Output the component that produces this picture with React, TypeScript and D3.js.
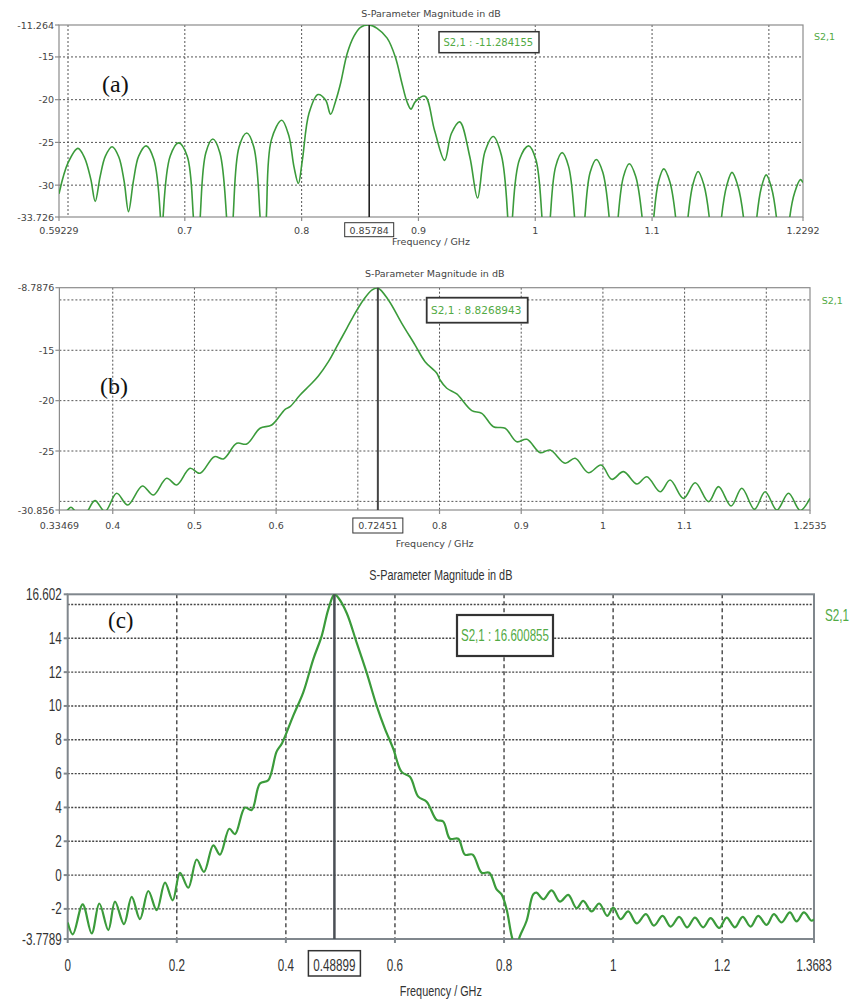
import React from 'react';
import * as d3 from 'd3';

// S2,1 magnitude traces, [GHz, dB]
const curveA: [number, number][] = [
  [0.59229, -31.0], [0.6, -27.4], [0.6085, -25.7], [0.6142, -26.8], [0.6195, -29.3], [0.6233, -31.9],
  [0.6275, -29.0], [0.632, -26.6], [0.6378, -25.5], [0.6435, -26.7], [0.648, -29.5], [0.6518, -33.1],
  [0.656, -29.5], [0.6605, -26.6], [0.6669, -25.4], [0.6735, -27.0], [0.6791, -33.7], [0.6803, -45],
  [0.6814, -33.7], [0.6875, -26.6], [0.6947, -25.05], [0.702, -26.6], [0.7073, -33.7], [0.7104, -45],
  [0.7132, -33.7], [0.718, -26.2], [0.724, -24.6], [0.73, -26.2], [0.7357, -33.7], [0.7386, -45],
  [0.7414, -33.7], [0.7465, -25.5], [0.753, -23.9], [0.759, -25.5], [0.7644, -33.7], [0.7673, -45],
  [0.7698, -33.7], [0.7741, -24.7], [0.783, -22.4], [0.789, -24.2], [0.7935, -27.9], [0.7972, -29.8],
  [0.8006, -27.1], [0.8063, -21.6], [0.814, -19.4], [0.8205, -20.05], [0.8248, -21.7], [0.829, -20.2],
  [0.8333, -18.1], [0.839, -14.6], [0.8447, -12.6], [0.8504, -11.54], [0.8578, -11.264], [0.8646, -11.65],
  [0.8732, -12.8], [0.8802, -15.0], [0.8859, -18.1], [0.8902, -20.25], [0.8936, -21.1], [0.8975, -20.2],
  [0.9056, -19.6], [0.9138, -23.6], [0.9224, -27.1], [0.9282, -23.96], [0.9353, -22.6], [0.944, -26.7],
  [0.9506, -31.5], [0.9569, -26.1], [0.964, -24.3], [0.971, -26.5], [0.9764, -33.7], [0.9784, -45],
  [0.9805, -33.7], [0.9865, -27.0], [0.9943, -25.4], [1.0005, -27.0], [1.0057, -33.7], [1.0092, -45],
  [1.0129, -33.7], [1.0175, -27.8], [1.023, -26.2], [1.0285, -27.8], [1.0336, -33.7], [1.0379, -45],
  [1.0425, -33.7], [1.047, -28.5], [1.0523, -27.0], [1.0578, -28.5], [1.0632, -33.7], [1.067, -45],
  [1.071, -33.7], [1.0755, -29.0], [1.0805, -27.5], [1.086, -29.0], [1.0914, -33.7], [1.0963, -45],
  [1.1015, -33.7], [1.1055, -29.6], [1.11, -28.1], [1.1152, -29.6], [1.1201, -33.7], [1.1253, -45],
  [1.1308, -33.7], [1.135, -29.9], [1.1394, -28.4], [1.1442, -29.9], [1.1489, -33.7], [1.154, -45],
  [1.1595, -33.7], [1.164, -30.0], [1.1684, -28.5], [1.1733, -30.0], [1.1782, -33.7], [1.1839, -45],
  [1.1897, -33.7], [1.1935, -30.3], [1.1977, -28.8], [1.2022, -30.3], [1.2064, -33.7], [1.2121, -45],
  [1.2179, -33.7], [1.2222, -30.8], [1.227, -29.35], [1.2292, -29.7],
];

const curveB: [number, number][] = [
  [0.33469, -31.6], [0.3436, -30.95], [0.3489, -30.59], [0.354, -31.0], [0.362, -31.8], [0.369, -31.0],
  [0.3783, -29.93], [0.3905, -31.0], [0.4048, -29.2], [0.4183, -30.36], [0.4362, -28.47], [0.4497, -29.37],
  [0.466, -27.71], [0.4783, -28.37], [0.4946, -26.72], [0.5068, -27.21], [0.5244, -25.56], [0.5354, -25.79],
  [0.5518, -24.24], [0.564, -24.3], [0.5803, -22.74], [0.5946, -22.42], [0.611, -20.86], [0.617, -20.6],
  [0.6293, -19.44], [0.6415, -18.45], [0.6517, -17.55], [0.664, -16.13], [0.6742, -14.64], [0.6865, -12.82],
  [0.6966, -11.33], [0.7068, -10.01], [0.7171, -9.02], [0.7245, -8.83], [0.7374, -10.0], [0.7538, -12.32],
  [0.7701, -14.48], [0.7823, -16.13], [0.7967, -17.28], [0.8007, -17.95], [0.8089, -18.77], [0.8211, -19.34],
  [0.8395, -20.99], [0.8517, -21.26], [0.866, -22.59], [0.8803, -22.74], [0.8946, -24.08], [0.9069, -23.84],
  [0.9232, -25.17], [0.9354, -24.9], [0.9538, -26.22], [0.966, -25.72], [0.9823, -27.15], [0.9978, -26.39],
  [1.0109, -27.81], [1.0252, -27.05], [1.0416, -28.27], [1.0538, -27.55], [1.0701, -29.04], [1.0823, -27.88],
  [1.0986, -29.7], [1.113, -28.15], [1.1293, -30.03], [1.1415, -28.54], [1.157, -30.46], [1.1701, -28.7],
  [1.1855, -30.79], [1.1986, -29.04], [1.213, -30.86], [1.2272, -29.2], [1.2415, -30.9], [1.2535, -29.7],
];

const curveC: [number, number][] = [
  [0, -2.8], [0.0095, -3.5], [0.0275, -1.73], [0.044, -3.45], [0.058, -1.68], [0.0745, -3.25],
  [0.0867, -1.57], [0.1032, -2.9], [0.1173, -1.29], [0.1325, -2.6], [0.1478, -0.94], [0.1632, -2.08],
  [0.1784, -0.45], [0.1925, -1.49], [0.2059, 0.13], [0.2211, -0.75], [0.2365, 0.92], [0.2499, 0.19],
  [0.2669, 1.76], [0.2792, 1.21], [0.2963, 2.74], [0.3067, 2.42], [0.325, 3.99], [0.3373, 3.85],
  [0.3525, 5.42], [0.3677, 5.61], [0.383, 7.3], [0.393, 7.8], [0.4136, 9.43], [0.4319, 10.8],
  [0.4502, 12.76], [0.4656, 14.13], [0.4777, 15.7], [0.48899, 16.6], [0.4961, 16.4], [0.5115, 15.5],
  [0.5298, 13.74], [0.5481, 11.97], [0.5665, 10.01], [0.5817, 8.65], [0.5969, 7.47], [0.6122, 6.1],
  [0.6275, 5.81], [0.6427, 4.64], [0.6581, 4.34], [0.6764, 3.26], [0.6885, 3.17], [0.7008, 2.15],
  [0.716, 2.15], [0.7283, 1.21], [0.7424, 1.21], [0.7589, 0.14], [0.7729, 0.14], [0.7864, -0.85],
  [0.7955, -1.14], [0.8047, -2.02], [0.814, -3.6], [0.821, -4.3], [0.8292, -3.6], [0.8414, -2.7],
  [0.8535, -1.14], [0.8597, -1.04], [0.8719, -1.43], [0.8872, -0.9], [0.9025, -1.57], [0.9177, -1.17],
  [0.9331, -1.96], [0.9452, -1.53], [0.9606, -2.15], [0.9745, -1.68], [0.9892, -2.41], [1.0002, -1.92],
  [1.0137, -2.61], [1.0277, -2.15], [1.0431, -2.86], [1.0601, -2.31], [1.0748, -2.99], [1.0907, -2.41],
  [1.1054, -3.05], [1.1212, -2.47], [1.1358, -3.09], [1.15, -2.51], [1.1652, -3.09], [1.1787, -2.55],
  [1.1945, -3.13], [1.2081, -2.51], [1.2233, -3.09], [1.2374, -2.47], [1.2521, -3.05], [1.266, -2.41],
  [1.2814, -2.94], [1.2948, -2.31], [1.3089, -2.8], [1.3241, -2.21], [1.3364, -2.74], [1.3498, -2.21],
  [1.3639, -2.7], [1.3683, -2.6],
];

// axis ranges, grid and labelled ticks
const xDomainA = [0.59229, 1.2292];
const yDomainA = [-33.726, -11.264];
const gridXA = [0.6, 0.7, 0.8, 0.9, 1, 1.1, 1.2];
const gridYA = [-15, -20, -25, -30];
const labelsXA = [0.59229, 0.7, 0.8, 0.9, 1, 1.1, 1.2292];
const labelsYA = [-11.264, -15, -20, -25, -30, -33.726];
const markerA = 0.85784;
const markerTextA = 'S2,1 : -11.284155';

const xDomainB = [0.33469, 1.2535];
const yDomainB = [-30.856, -8.7876];
const gridXB = [0.4, 0.5, 0.6, 0.7, 0.8, 0.9, 1, 1.1, 1.2];
const gridYB = [-10, -15, -20, -25, -30];
const labelsXB = [0.33469, 0.4, 0.5, 0.6, 0.8, 0.9, 1, 1.1, 1.2535];
const labelsYB = [-8.7876, -15, -20, -25, -30.856];
const markerB = 0.72451;
const markerTextB = 'S2,1 :  8.8268943';

const xDomainC = [0, 1.3683];
const yDomainC = [-3.7789, 16.602];
const gridXC = [0.2, 0.4, 0.6, 0.8, 1, 1.2];
const gridYC = [16, 14, 12, 10, 8, 6, 4, 2, 0, -2];
const labelsXC = [0, 0.2, 0.4, 0.6, 0.8, 1, 1.2, 1.3683];
const labelsYC = [16.602, 14, 12, 10, 8, 6, 4, 2, 0, -2, -3.7789];
const markerC = 0.48899;
const markerTextC = 'S2,1 : 16.600855';

const GREEN = '#3b9b3b';
const TEXT_GREEN = '#52aa44';

function Txt(props: any) {
  const { x, y, f, size, sx, anchor, fill, children } = props;
  return (
    <text
      transform={`translate(${x},${y}) scale(${sx ?? f.sx},1)`}
      fontFamily={f.family}
      fontSize={size ?? f.size}
      fill={fill ?? f.color}
      textAnchor={anchor ?? 'start'}
    >
      {children}
    </text>
  );
}

function Panel(p: any) {
  const x = d3.scaleLinear().domain(p.xDomain).range([p.l, p.r]);
  const y = d3.scaleLinear().domain(p.yDomain).range([p.b, p.t]);
  const line = d3.line<[number, number]>()
    .x(d => x(d[0]))
    .y(d => y(d[1]))
    .curve(d3.curveCatmullRom.alpha(0.5));
  const f = p.font;
  const cx = (p.l + p.r) / 2;
  const mx = x(p.marker);

  return (
    <g>
      <defs>
        <clipPath id={p.id}>
          <rect x={p.l} y={p.t} width={p.r - p.l} height={p.b - p.t} />
        </clipPath>
      </defs>

      {/* grid */}
      {p.gridY.map((v: number) => (
        <line key={'gy' + v} x1={p.l} x2={p.r} y1={y(v)} y2={y(v)}
          stroke={p.gridColor} strokeWidth={p.gridW} strokeDasharray={p.dashY} />
      ))}
      {p.gridX.map((v: number) => (
        <line key={'gx' + v} x1={x(v)} x2={x(v)} y1={p.t} y2={p.b}
          stroke={p.gridColor} strokeWidth={p.gridW} strokeDasharray={p.dashX} />
      ))}

      {/* frame */}
      <rect x={p.l} y={p.t} width={p.r - p.l} height={p.b - p.t} fill="none"
        stroke={p.frameColor} strokeWidth={p.frameW} />

      {/* ticks */}
      {p.labelsY.map((v: number) => (
        <line key={'ty' + v} x1={p.l - 4} x2={p.l} y1={y(v)} y2={y(v)} stroke={p.frameColor} strokeWidth={p.frameW} />
      ))}
      {p.labelsX.map((v: number) => (
        <line key={'tx' + v} x1={x(v)} x2={x(v)} y1={p.b} y2={p.b + 4} stroke={p.frameColor} strokeWidth={p.frameW} />
      ))}

      {/* trace */}
      <path d={line(p.curve) || ''} fill="none" stroke={GREEN} strokeWidth={p.lineW}
        clipPath={`url(#${p.id})`} strokeLinejoin="round" />

      {/* marker */}
      <line x1={mx} x2={mx} y1={p.t} y2={p.b} stroke={p.markerColor} strokeWidth={p.markerW} />

      {/* tick labels */}
      {p.labelsY.map((v: number) => (
        <Txt key={'ly' + v} f={f} x={p.l - p.yLabelGap} y={y(v) + p.yLabelDy} anchor="end">{String(v)}</Txt>
      ))}
      {p.labelsX.map((v: number) => (
        <Txt key={'lx' + v} f={f} x={x(v)} y={p.xLabelY} anchor="middle">{String(v)}</Txt>
      ))}

      {/* marker value on x axis */}
      <rect x={mx - p.xBox.w / 2} y={p.xBox.y} width={p.xBox.w} height={p.xBox.h}
        fill="#fff" stroke="#333" strokeWidth={p.xBox.sw} />
      <Txt f={f} x={mx} y={p.xLabelY} anchor="middle">{String(p.marker)}</Txt>

      {/* marker readout */}
      <rect x={p.mBox.x} y={p.mBox.y} width={p.mBox.w} height={p.mBox.h}
        fill="#fff" stroke="#333" strokeWidth={p.mBox.sw} />
      <Txt f={f} x={p.mBox.tx} y={p.mBox.ty} size={p.mBox.size} sx={p.mBox.sx} fill={TEXT_GREEN}>{p.markerText}</Txt>

      {/* titles, legend */}
      <Txt f={f} x={cx} y={p.titleY} size={p.titleSize} sx={p.titleSx} anchor="middle">S-Parameter Magnitude in dB</Txt>
      <Txt f={f} x={cx} y={p.xTitleY} size={p.titleSize} sx={p.titleSx} anchor="middle">Frequency / GHz</Txt>
      <Txt f={f} x={p.legend[0]} y={p.legend[1]} size={p.legendSize} fill={TEXT_GREEN}>S2,1</Txt>

      <text x={p.tag[0]} y={p.tag[1]} fontFamily="'Liberation Serif', 'Times New Roman', serif"
        fontSize={p.tagSize} fill="#111">{p.tagText}</text>
    </g>
  );
}

const fontAB = { family: "'DejaVu Sans', Verdana, sans-serif", size: 9.5, sx: 1, color: '#444' };
const fontC = { family: "'Liberation Sans', Arial, sans-serif", size: 16, sx: 0.73, color: '#333' };

export default function App() {
  return (
    <svg width={850} height={1003} viewBox="0 0 850 1003"
      style={{ position: 'absolute', left: 0, top: 0, background: '#fff', display: 'block' }}>
      <rect x={0} y={0} width={850} height={1003} fill="#fff" />

      <Panel id="clipA" curve={curveA} xDomain={xDomainA} yDomain={yDomainA}
        l={59} t={25} r={803} b={217}
        gridX={gridXA} gridY={gridYA} labelsX={labelsXA} labelsY={labelsYA}
        marker={markerA} markerText={markerTextA}
        font={fontAB} gridColor="#555" gridW={1} dashX="2,2" dashY="2,2"
        frameColor="#8c8c8c" frameW={1.2} lineW={1.6}
        markerColor="#222" markerW={1.6}
        yLabelGap={5} yLabelDy={3.5} xLabelY={233.5}
        xBox={{ w: 49, y: 222.7, h: 14, sw: 1 }}
        mBox={{ x: 439, y: 31.7, w: 100, h: 21, sw: 1.5, tx: 443.5, ty: 45.8, size: 10, sx: 1 }}
        titleY={16.5} xTitleY={244.5} titleSize={9.5} titleSx={1}
        legend={[814, 39.5]} legendSize={9.5}
        tag={[102, 92]} tagSize={24} tagText="(a)" />

      <Panel id="clipB" curve={curveB} xDomain={xDomainB} yDomain={yDomainB}
        l={59.4} t={287.7} r={810} b={510}
        gridX={gridXB} gridY={gridYB} labelsX={labelsXB} labelsY={labelsYB}
        marker={markerB} markerText={markerTextB}
        font={fontAB} gridColor="#555" gridW={1} dashX="2,2" dashY="2,2"
        frameColor="#8c8c8c" frameW={1.2} lineW={1.6}
        markerColor="#444" markerW={2}
        yLabelGap={5} yLabelDy={3.5} xLabelY={528.5}
        xBox={{ w: 50, y: 518, h: 15, sw: 1 }}
        mBox={{ x: 426.7, y: 297.7, w: 101, h: 25, sw: 1.8, tx: 431, ty: 313.8, size: 10.5, sx: 1 }}
        titleY={276.5} xTitleY={546.5} titleSize={9.5} titleSx={1}
        legend={[821.7, 303.5]} legendSize={9.5}
        tag={[100, 393.5]} tagSize={24} tagText="(b)" />

      <Panel id="clipC" curve={curveC} xDomain={xDomainC} yDomain={yDomainC}
        l={67.7} t={594.3} r={814} b={939}
        gridX={gridXC} gridY={gridYC} labelsX={labelsXC} labelsY={labelsYC}
        marker={markerC} markerText={markerTextC}
        font={fontC} gridColor="#444" gridW={1.4} dashX="4,3" dashY="2,1.5"
        frameColor="#80878d" frameW={2} lineW={2.2}
        markerColor="#4a4f55" markerW={2.5}
        yLabelGap={6} yLabelDy={5.5} xLabelY={970.5}
        xBox={{ w: 52, y: 950.7, h: 25.3, sw: 1.5 }}
        mBox={{ x: 457, y: 615, w: 96, h: 41, sw: 2.2, tx: 461, ty: 641, size: 17, sx: 0.68 }}
        titleY={579.5} xTitleY={995.5} titleSize={14.5} titleSx={0.75}
        legend={[825, 620.5]} legendSize={16}
        tag={[108, 628]} tagSize={23} tagText="(c)" />
    </svg>
  );
}
